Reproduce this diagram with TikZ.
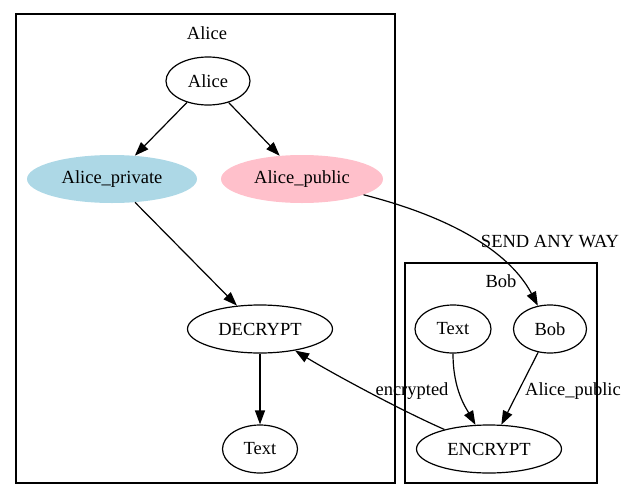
\documentclass[tikz,border=0pt]{standalone}
\usepackage{fontspec}
\setmainfont{Liberation Serif}
\usetikzlibrary{arrows.meta,shapes.geometric}
\definecolor{lblue}{HTML}{ADD8E6}
\definecolor{lpink}{HTML}{FFC0CB}
\begin{document}
\begin{tikzpicture}[x=1pt,y=-1pt,
  every node/.style={font=\fontsize{18.5}{22}\selectfont},
  nd/.style={ellipse,draw,line width=1.2pt,inner sep=0pt,minimum height=48pt},
  fnd/.style={ellipse,inner sep=0pt,minimum height=48pt},
  cl/.style={draw,line width=1.2pt},
  edge/.style={line width=1.2pt,-{Triangle[length=14pt,width=10pt]}},
  lbl/.style={inner sep=0pt}]
\useasboundingbox (0,0) rectangle (627,501);
% clusters
\draw[cl] (16,14) rectangle (395,483);
\node[lbl] (calice) at (207,33) {Alice};
\draw[cl] (405,263) rectangle (597,483);
\node[lbl] (cbob) at (501,281) {Bob};
% nodes
\node[nd,minimum width=84pt] (A) at (208,81) {Alice};
\node[fnd,fill=lblue,minimum width=170pt] (Apriv) at (112,179) {Alice\_private};
\node[fnd,fill=lpink,minimum width=162pt] (Apub) at (302,179) {Alice\_public};
\node[nd,minimum width=145pt] (D) at (260,329) {DECRYPT};
\node[nd,minimum width=75pt] (TA) at (260,449) {Text};
\node[nd,minimum width=76pt] (TB) at (453,329) {Text};
\node[nd,minimum width=73pt] (B) at (550,329) {Bob};
\node[nd,minimum width=145pt] (E) at (489,449) {ENCRYPT};
% edges
\draw[edge] (A) -- (Apriv);
\draw[edge] (A) -- (Apub);
\draw[edge] (Apriv) -- (D);
\draw[edge] (D) -- (TA);
\draw[edge] (Apub) .. controls (470,222) and (515,262) .. (B);
\draw[edge] (TB) .. controls (453,390) and (466,408) .. (E);
\draw[edge] (B) -- (E);
\draw[edge] (E) .. controls (400,410) and (330,372) .. (D);
% edge labels
\node[lbl] (l1) at (550,242) {SEND ANY WAY};
\node[lbl] (l2) at (412,391) {encrypted};
\node[lbl] (l3) at (573,391) {Alice\_public};
\end{tikzpicture}
\end{document}
